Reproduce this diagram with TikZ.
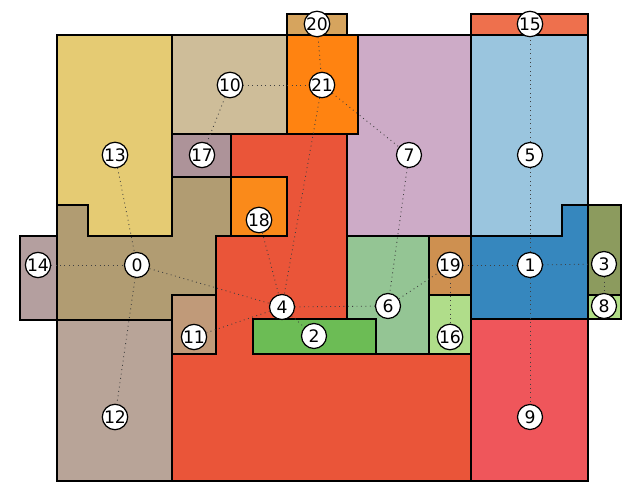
\documentclass[tikz,border=0pt]{standalone}
\usepackage{fontspec}
\setsansfont{DejaVu Sans}
\definecolor{cA}{HTML}{B19C72}
\definecolor{cB}{HTML}{3687BE}
\definecolor{cC}{HTML}{6CBC55}
\definecolor{cD}{HTML}{8C9B5E}
\definecolor{cE}{HTML}{EA5539}
\definecolor{cF}{HTML}{9AC5DE}
\definecolor{cG}{HTML}{94C594}
\definecolor{cH}{HTML}{CDABC7}
\definecolor{cI}{HTML}{B2DE87}
\definecolor{cJ}{HTML}{EF565B}
\definecolor{cK}{HTML}{CEBD99}
\definecolor{cL}{HTML}{C09A79}
\definecolor{cM}{HTML}{B8A498}
\definecolor{cN}{HTML}{E5CB73}
\definecolor{cO}{HTML}{B49F9F}
\definecolor{cP}{HTML}{EE704D}
\definecolor{cQ}{HTML}{B0DD8A}
\definecolor{cR}{HTML}{AD9399}
\definecolor{cS}{HTML}{FA8A1A}
\definecolor{cT}{HTML}{CE9050}
\definecolor{cU}{HTML}{D6A45E}
\definecolor{cV}{HTML}{FF8311}
\tikzset{zone/.style={draw=black,line width=0.8pt},
	site/.style={circle,draw=black,fill=white,line width=0.7pt,inner sep=0pt,minimum size=0.5cm,font=\sffamily\fontsize{9.8}{11}\selectfont},
	link/.style={dotted,line width=0.5pt,black!75}}
\begin{document}
\begin{tikzpicture}[x=0.02cm,y=-0.02cm]
			\useasboundingbox (0,0) rectangle (640,500);
			% regions that are not rectangles
			\draw[zone,fill=cN] (57,35)--(172,35)--(172,236)--(88,236)--(88,205)--(57,205)--cycle;
			\draw[zone,fill=cA] (57,205)--(88,205)--(88,236)--(172,236)--(172,177)--(231,177)--(231,236)--(216,236)--(216,295)--(172,295)--(172,320)--(57,320)--cycle;
			\draw[zone,fill=cE] (231,134)--(347,134)--(347,354)--(471,354)--(471,481)--(172,481)--(172,354)--(216,354)--(216,236)--(231,236)--cycle;
			\draw[zone,fill=cH] (358,35)--(471,35)--(471,236)--(347,236)--(347,134)--(358,134)--cycle;
			\draw[zone,fill=cF] (471,35)--(588,35)--(588,205)--(562,205)--(562,236)--(471,236)--cycle;
			\draw[zone,fill=cB] (471,236)--(562,236)--(562,205)--(588,205)--(588,319)--(471,319)--cycle;
			% rectangular regions
			\foreach \xa/\ya/\xb/\yb/\col in {172/35/287/134/cK,172/134/231/177/cR,20/236/57/320/cO,57/320/172/481/cM,172/295/216/354/cL,287/35/358/134/cV,287/14/347/35/cU,471/14/588/35/cP,588/205/621/295/cD,588/295/621/319/cI,471/319/588/481/cJ,429/236/471/295/cT,429/295/471/354/cQ,347/236/429/354/cG,231/177/287/236/cS,253/319/376/354/cC}\draw[zone,fill=\col] (\xa,\ya) rectangle (\xb,\yb);
			% sites
			\foreach \x/\y [count=\i from 0] in {137/265,530/265,314/336,604/264,282/307,530/155,388/306,409/155,604/306,530/417,230/85,194/337,115/417,115/155,38/265,530/24,450/337,202/155,259/220,450/265,317/24,322/85}\node[site] (n\i) at (\x,\y) {\i};
			% adjacency
			\foreach \a/\b in {13/0,14/0,0/12,0/4,10/21,10/17,20/21,21/4,21/7,7/6,18/4,4/11,4/2,4/6,6/19,19/16,19/1,1/3,3/8,1/5,5/15,1/9}\draw[link] (n\a)--(n\b);
\end{tikzpicture}
\end{document}
